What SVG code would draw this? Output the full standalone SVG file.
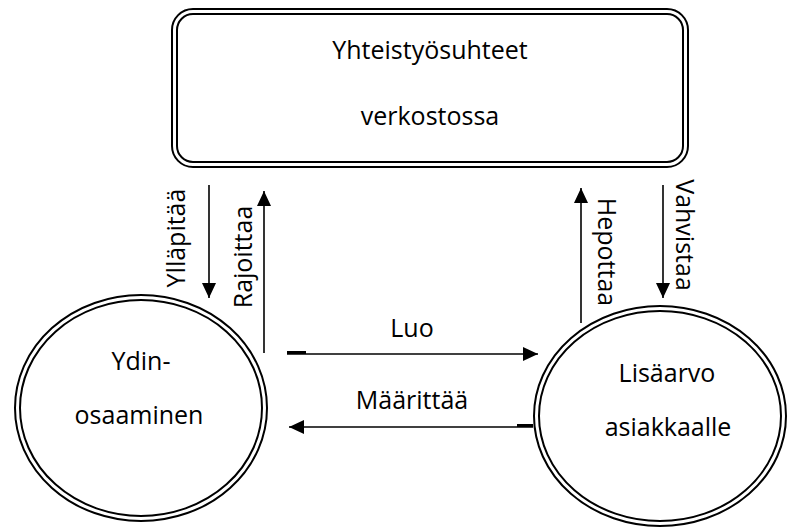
<svg xmlns="http://www.w3.org/2000/svg" width="789" height="532" viewBox="0 0 789 532">
<style>
.bg{fill:#fff}
.dbl{fill:none;stroke:#000;stroke-width:2}
.lbl{font-family:"Open Sans","Noto Sans","DejaVu Sans",sans-serif;font-size:25px;fill:#000;text-anchor:middle}
.conn{stroke:#000;stroke-width:1.6;fill:none}
.stub{stroke:#000;stroke-width:3}
</style>
<defs>
<marker id="ah" markerUnits="userSpaceOnUse" markerWidth="15" markerHeight="14" refX="15" refY="7" orient="auto">
<path d="M0,0 L15,7 L0,14 z" fill="#000"/>
</marker>
</defs>
<rect class="bg" x="0" y="0" width="789" height="532"/>
<g id="node-network">
<rect class="dbl" x="172" y="9" width="516" height="158" rx="21"/>
<rect class="dbl" x="177" y="14" width="506" height="148" rx="16"/>
<text class="lbl" x="430" y="59">Yhteistyösuhteet</text>
<text class="lbl" x="430" y="125">verkostossa</text>
</g>
<g id="node-core">
<ellipse class="dbl" cx="141" cy="408" rx="126" ry="113"/>
<ellipse class="dbl" cx="141" cy="408" rx="121" ry="108"/>
<text class="lbl" x="141" y="370">Ydin-</text>
<text class="lbl" x="139" y="424">osaaminen</text>
</g>
<g id="node-value">
<ellipse class="dbl" cx="660" cy="416" rx="126" ry="110"/>
<ellipse class="dbl" cx="660" cy="416" rx="121" ry="105"/>
<text class="lbl" x="667" y="382">Lisäarvo</text>
<text class="lbl" x="668" y="436">asiakkaalle</text>
</g>
<g id="connectors">
<line class="conn" x1="209" y1="185" x2="209" y2="298" marker-end="url(#ah)"/>
<line class="conn" x1="264" y1="353" x2="264" y2="191" marker-end="url(#ah)"/>
<line class="conn" x1="581" y1="323" x2="581" y2="188" marker-end="url(#ah)"/>
<line class="conn" x1="663" y1="185" x2="663" y2="298" marker-end="url(#ah)"/>
<line class="conn" x1="287" y1="354" x2="538" y2="354" marker-end="url(#ah)"/>
<line class="stub" x1="287" y1="352.5" x2="306" y2="352.5"/>
<line class="conn" x1="533" y1="427" x2="289" y2="427" marker-end="url(#ah)"/>
<line class="stub" x1="517" y1="425.5" x2="533" y2="425.5"/>
<text class="lbl" transform="translate(185,238) rotate(-90)">Ylläpitää</text>
<text class="lbl" transform="translate(252,257) rotate(-90)">Rajoittaa</text>
<text class="lbl" transform="translate(598,252) rotate(90)">Hepottaa</text>
<text class="lbl" transform="translate(676,235) rotate(90)">Vahvistaa</text>
<text class="lbl" x="412" y="337">Luo</text>
<text class="lbl" x="412" y="409">Määrittää</text>
</g>
</svg>
